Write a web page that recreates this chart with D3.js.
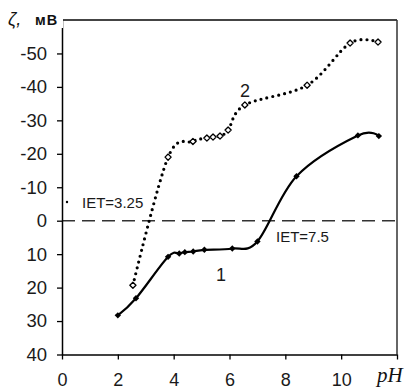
<!DOCTYPE html>
<html>
<head>
<meta charset="utf-8">
<script src="https://cdn.jsdelivr.net/npm/d3@7"></script>
<style>
  html, body { margin: 0; padding: 0; background: #fff; }
  svg { display: block; }
</style>
</head>
<body>
<svg id="chart" width="412" height="390"></svg>
<script>
// Zeta potential vs pH, two samples
const pH1   = [2.0, 2.65, 3.8, 4.2, 4.4, 4.7, 5.1, 6.1, 7.0, 8.4, 10.6, 11.35];
const zeta1 = [28.3, 23.2, 10.8, 9.8, 9.4, 9.2, 8.7, 8.3, 6.2, -13.3, -25.5, -25.3];

const pH2   = [2.54, 3.8, 4.69, 5.19, 5.41, 5.66, 5.95, 6.55, 8.78, 10.32, 11.32];
const zeta2 = [19.3, -19.0, -23.7, -24.7, -25.0, -25.3, -27.1, -34.6, -40.5, -53.1, -53.4];

const xTicks = [0, 2, 4, 6, 8, 10, 12];
const xTickLabels = ["0", "2", "4", "6", "8", "10"];
const yTicks = [-50, -40, -30, -20, -10, 0, 10, 20, 30, 40];

const iet1 = { pH: 7.5, label: "IET=7.5" };
const iet2 = { pH: 3.25, label: "IET=3.25" };

const svg = d3.select("#chart");
const x = d3.scaleLinear().domain([0, 12]).range([62, 397]);
const y = d3.scaleLinear().domain([-60, 40]).range([20, 354.5]);

const font = "'Liberation Sans', Arial, sans-serif";

// frame: top and right edges
svg.append("line").attr("x1", x(0)).attr("x2", x(12)).attr("y1", y(-60)).attr("y2", y(-60))
  .attr("stroke", "#444").attr("stroke-width", 2);
svg.append("line").attr("x1", x(12)).attr("x2", x(12)).attr("y1", y(-60)).attr("y2", y(40))
  .attr("stroke", "#333").attr("stroke-width", 1.5);

// zero reference line
svg.append("line").attr("x1", x(0)).attr("x2", x(12)).attr("y1", y(0)).attr("y2", y(0))
  .attr("stroke", "#333").attr("stroke-width", 1.6).attr("stroke-dasharray", "13,7");

// y axis
const yAxis = d3.axisLeft(y).tickValues(yTicks).tickSize(5).tickSizeOuter(0)
  .tickFormat(d => String(d));
const gy = svg.append("g").attr("transform", `translate(${x(0)},0)`).call(yAxis);
gy.select(".domain").attr("stroke", "#000").attr("stroke-width", 1.5);
gy.selectAll(".tick line").attr("stroke", "#000").attr("stroke-width", 1.3);
gy.selectAll(".tick text").attr("x", -15).attr("fill", "#1a1a1a")
  .style("font-family", font).style("font-size", "18.5px");

// x axis
const xAxis = d3.axisBottom(x).tickValues(xTicks).tickSize(5).tickSizeOuter(0)
  .tickFormat((d, i) => xTickLabels[i] || "");
const gx = svg.append("g").attr("transform", `translate(0,${y(40)})`).call(xAxis);
gx.select(".domain").attr("stroke", "#000").attr("stroke-width", 1.5);
gx.selectAll(".tick line").attr("stroke", "#000").attr("stroke-width", 1.3);
gx.selectAll(".tick text").attr("y", 31).attr("dy", null).attr("fill", "#1a1a1a")
  .style("font-family", font).style("font-size", "18px");

svg.append("text").attr("x", 377).attr("y", 382)
  .style("font-family", "'Liberation Serif', 'Times New Roman', serif")
  .style("font-style", "italic").style("font-size", "21px").attr("fill", "#111")
  .text("pH");

// y-axis title over the top-left corner
svg.append("rect").attr("x", 0).attr("y", 6).attr("width", 63).attr("height", 22).attr("fill", "#fff");
const yt = svg.append("text").attr("x", 8).attr("y", 25).attr("fill", "#111").style("font-family", font);
yt.append("tspan").style("font-style", "italic").style("font-size", "18px").text("ζ,");
yt.append("tspan").attr("x", 35).style("font-size", "14.5px").style("font-weight", "bold")
  .style("letter-spacing", "1px").text("мВ");

// curves
const line = d3.line().x(d => x(d[0])).y(d => y(d[1])).curve(d3.curveCardinal.tension(0));
const s1 = pH1.map((p, i) => [p, zeta1[i]]);
const s2 = pH2.map((p, i) => [p, zeta2[i]]);

svg.append("path").datum(s2).attr("d", line).attr("fill", "none")
  .attr("stroke", "#000").attr("stroke-width", 3.2).attr("stroke-linecap", "round")
  .attr("stroke-dasharray", "0,6");

svg.append("path").datum(s1).attr("d", line).attr("fill", "none")
  .attr("stroke", "#000").attr("stroke-width", 2.2);

const diamond = d3.symbol().type(d3.symbolDiamond2);

svg.append("g").selectAll("path").data(s2).join("path")
  .attr("transform", d => `translate(${x(d[0])},${y(d[1])})`)
  .attr("d", diamond.size(24)).attr("fill", "#fff").attr("stroke", "#000")
  .attr("stroke-width", 1.3).attr("stroke-linejoin", "round");

svg.append("g").selectAll("path").data(s1).join("path")
  .attr("transform", d => `translate(${x(d[0])},${y(d[1])})`)
  .attr("d", diamond.size(26)).attr("fill", "#000");

// annotations
svg.append("circle").attr("cx", 67).attr("cy", 202).attr("r", 1.2).attr("fill", "#000");
svg.append("text").attr("x", 82).attr("y", 208).style("font-family", font).style("font-size", "15px")
  .attr("fill", "#1a1a1a").text(iet2.label);
svg.append("text").attr("x", 276).attr("y", 242).style("font-family", font).style("font-size", "15px")
  .attr("fill", "#1a1a1a").text(iet1.label);

svg.append("text").attr("x", 245).attr("y", 97).attr("text-anchor", "middle")
  .style("font-family", font).style("font-size", "18px").attr("fill", "#1a1a1a").text("2");
svg.append("text").attr("x", 221).attr("y", 281).attr("text-anchor", "middle")
  .style("font-family", font).style("font-size", "18px").attr("fill", "#1a1a1a").text("1");
</script>
</body>
</html>
